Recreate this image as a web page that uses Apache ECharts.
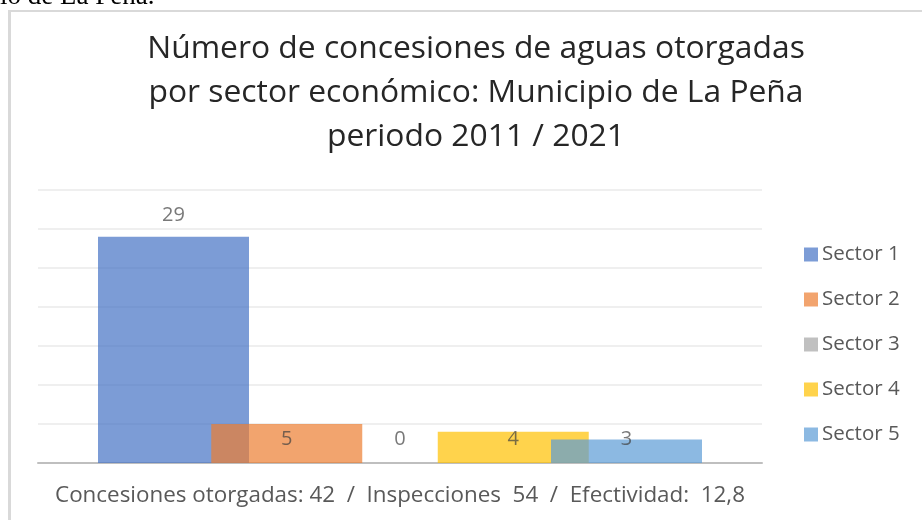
<!DOCTYPE html>
<html>
<head>
<meta charset="utf-8">
<script src="https://cdn.jsdelivr.net/npm/echarts@6/dist/echarts.min.js"></script>
<style>
  html, body { margin: 0; padding: 0; background: #fff; overflow: hidden; }
  #chart { position: absolute; left: 0; top: 0; width: 922px; height: 520px; }
  #caption {
    position: absolute; left: 0; top: -18px; line-height: 27px;
    font-family: "Liberation Serif", serif; font-size: 27px; color: #000;
    white-space: nowrap; z-index: 2;
  }
</style>
</head>
<body>
<div id="chart"></div>
<div id="caption">io de La Peña.</div>
<script>
// datos
const sectores = ['Sector 1', 'Sector 2', 'Sector 3', 'Sector 4', 'Sector 5'];
const concesiones = [29, 5, 0, 4, 3];
const colores = ['#4472C4', '#ED7D31', '#A5A5A5', '#FFC000', '#5B9BD5'];
const titulo = 'Número de concesiones de aguas otorgadas\npor sector económico: Municipio de La Peña\nperiodo 2011 / 2021';
const resumen = 'Concesiones otorgadas: 42  /  Inspecciones  54  /  Efectividad:  12,8';

const chart = echarts.init(document.getElementById('chart'));

const series = sectores.map((name, i) => ({
  name: name,
  type: 'bar',
  data: [concesiones[i]],
  barWidth: 151,
  barGap: '-25%',
  itemStyle: { color: colores[i], opacity: 0.7 },
  emphasis: { disabled: true },
  label: {
    show: true,
    position: i === 0 ? 'top' : 'insideBottom',
    distance: i === 0 ? 12 : 14,
    color: '#404040',
    fontFamily: 'Open Sans',
    fontSize: 20
  }
}));

chart.setOption({
  animation: false,
  backgroundColor: '#fff',
  title: [
    {
      text: titulo,
      left: 476,
      top: 27,
      textAlign: 'center',
      padding: 0,
      textStyle: {
        fontFamily: 'Open Sans',
        fontSize: 31.8,
        fontWeight: 'normal',
        lineHeight: 44,
        color: '#262626'
      }
    },
    {
      text: resumen,
      left: 400,
      top: 485,
      textAlign: 'center',
      padding: 0,
      textStyle: {
        fontFamily: 'Open Sans',
        fontSize: 22.4,
        fontWeight: 'normal',
        color: '#595959'
      }
    }
  ],
  legend: {
    orient: 'vertical',
    left: 804,
    top: 244,
    itemWidth: 14,
    itemHeight: 14,
    itemGap: 24,
    icon: 'rect',
    padding: 0,
    textStyle: { fontFamily: 'Open Sans', fontSize: 20.5, color: '#595959', padding: [0, 0, 0, -1] },
    data: sectores
  },
  grid: { left: 38, right: 160, top: 190, bottom: 57 },
  xAxis: {
    type: 'category',
    data: [''],
    axisLine: { lineStyle: { color: '#bfbfbf', width: 2 } },
    axisTick: { show: false },
    axisLabel: { show: false }
  },
  yAxis: {
    type: 'value',
    min: 0,
    max: 35,
    interval: 5,
    axisLine: { show: false },
    axisTick: { show: false },
    axisLabel: { show: false },
    splitLine: { lineStyle: { color: '#efefef', width: 2 } }
  },
  graphic: [
    { type: 'rect', shape: { x: 8, y: 10, width: 3, height: 520 }, style: { fill: '#d9d9d9' } },
    { type: 'rect', shape: { x: 8, y: 10, width: 914, height: 2 }, style: { fill: '#d9d9d9' } }
  ],
  series: series
});
</script>
</body>
</html>
